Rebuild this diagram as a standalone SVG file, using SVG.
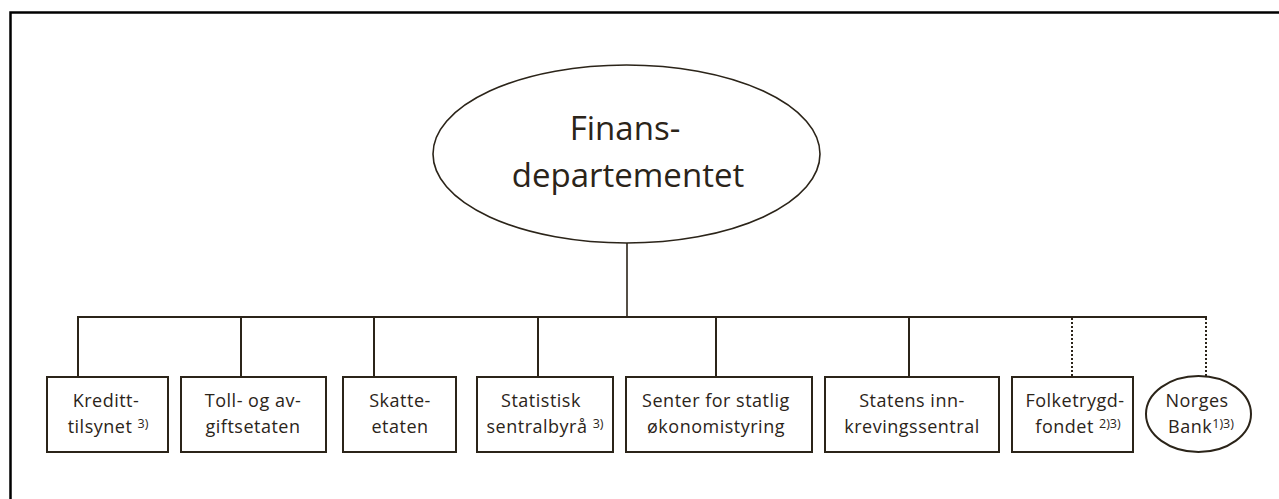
<svg xmlns="http://www.w3.org/2000/svg" width="1279" height="499" viewBox="0 0 1279 499">
<style>
.frame{fill:none;stroke:#000;stroke-width:2.5}
.box{fill:#fff;stroke:#2b2419;stroke-width:2}
.ell{fill:#fff;stroke:#2b2419;stroke-width:1.6}
.ln{fill:none;stroke:#2b2419;stroke-width:2}
.dot{fill:none;stroke:#2b2419;stroke-width:2;stroke-dasharray:2 2}
text{font-family:"Open Sans","Noto Sans","Liberation Sans",sans-serif;fill:#2b2419;text-anchor:middle}
.t{font-size:18px;letter-spacing:0.5px}
.big{font-size:33px}
.sup{font-size:12.5px;letter-spacing:0}
</style>
<rect width="1279" height="499" fill="#fff"/>
<path class="frame" d="M10.5 499 V12.5 H1279"/>
<g id="connectors">
<line class="ln" x1="627" y1="243" x2="627" y2="317" style="stroke-width:1.6"/>
<line class="ln" x1="77" y1="317" x2="1207" y2="317"/>
<line class="ln" x1="78" y1="317" x2="78" y2="377"/>
<line class="ln" x1="241" y1="317" x2="241" y2="377"/>
<line class="ln" x1="374" y1="317" x2="374" y2="377"/>
<line class="ln" x1="538" y1="317" x2="538" y2="377"/>
<line class="ln" x1="716" y1="317" x2="716" y2="377"/>
<line class="ln" x1="909" y1="317" x2="909" y2="377"/>
<line class="dot" x1="1072" y1="318" x2="1072" y2="377"/>
<line class="dot" x1="1206" y1="318" x2="1206" y2="378"/>
</g>
<g id="finansdepartementet">
<ellipse class="ell" cx="626.5" cy="154" rx="193.5" ry="89"/>
<text class="big" x="625" y="140">Finans-</text>
<text class="big" x="628" y="187">departementet</text>
</g>
<g id="kredittilsynet">
<rect class="box" x="47" y="377" width="121" height="75"/>
<text class="t" x="106" y="407">Kreditt-</text>
<text class="t" x="108" y="433">tilsynet <tspan class="sup" dy="-5">3)</tspan></text>
</g>
<g id="toll">
<rect class="box" x="181" y="377" width="145" height="75"/>
<text class="t" x="253" y="407">Toll- og av-</text>
<text class="t" x="253" y="433">giftsetaten</text>
</g>
<g id="skatteetaten">
<rect class="box" x="343" y="377" width="113" height="75"/>
<text class="t" x="400" y="407">Skatte-</text>
<text class="t" x="400" y="433">etaten</text>
</g>
<g id="ssb">
<rect class="box" x="477" y="377" width="136" height="75"/>
<text class="t" x="541" y="407">Statistisk</text>
<text class="t" x="545" y="433">sentralbyrå <tspan class="sup" dy="-5">3)</tspan></text>
</g>
<g id="senter">
<rect class="box" x="626" y="377" width="186" height="75"/>
<text class="t" x="716" y="407">Senter for statlig</text>
<text class="t" x="716" y="433">økonomistyring</text>
</g>
<g id="innkreving">
<rect class="box" x="825" y="377" width="174" height="75"/>
<text class="t" x="912" y="407">Statens inn-</text>
<text class="t" x="912" y="433">krevingssentral</text>
</g>
<g id="folketrygdfondet">
<rect class="box" x="1012" y="377" width="121" height="75"/>
<text class="t" x="1075" y="407">Folketrygd-</text>
<text class="t" x="1078" y="433">fondet <tspan class="sup" dy="-5">2)3)</tspan></text>
</g>
<g id="norgesbank">
<ellipse class="ell" cx="1198.5" cy="414" rx="52.5" ry="38" style="stroke-width:2"/>
<text class="t" x="1197" y="407">Norges</text>
<text class="t" x="1201" y="433">Bank<tspan class="sup" dy="-5">1)3)</tspan></text>
</g>
</svg>
